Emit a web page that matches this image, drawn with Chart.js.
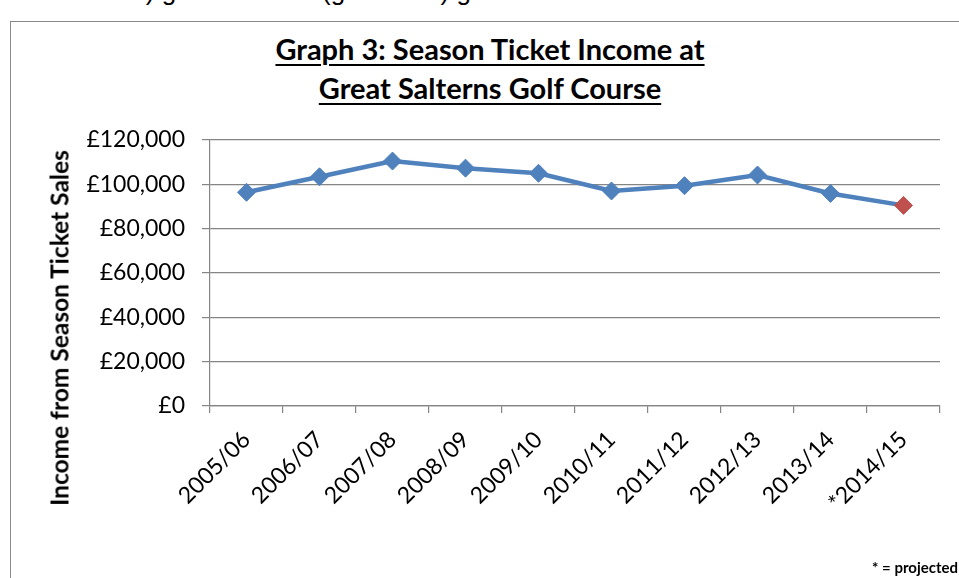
<!DOCTYPE html>
<html>
<head>
<meta charset="utf-8">
<script src="https://cdn.jsdelivr.net/npm/chart.js@4.4.1/dist/chart.umd.min.js"></script>
<style>
  html, body { margin: 0; padding: 0; background: #fff; }
  #wrap { position: relative; width: 959px; height: 578px; overflow: hidden; }
  #frame { position: absolute; left: 10px; top: 21px; width: 1000px; height: 600px; border: 1px solid #8a8a8a; box-sizing: border-box; }
  #above { position: absolute; left: -6px; top: -24px; font: 26px "Liberation Sans", Arial, sans-serif; color: #000; white-space: nowrap; }
  .ttl { position: absolute; left: 0; width: 980px; text-align: center; font: bold 29px Lato, sans-serif; color: #000; text-decoration: underline; text-underline-offset: 4px; text-decoration-thickness: 2px; white-space: nowrap; }
  #ytitle { position: absolute; left: 59px; top: 328px; transform: translate(-50%, -50%) rotate(-90deg); font: bold 24.5px Lato, sans-serif; color: #000; white-space: nowrap; }
  #note { position: absolute; right: 1px; top: 558px; font: bold 15px Lato, sans-serif; color: #000; }
  canvas { position: absolute; left: 0; top: 0; }
</style>
</head>
<body>
<div id="wrap">
  <div id="above">season ticket) golf to casual (green fee) golf</div>
  <div id="frame"></div>
  <div class="ttl" style="top:31px">Graph 3: Season Ticket Income at</div>
  <div class="ttl" style="top:70px">Great Salterns Golf Course</div>
  <canvas id="myChart" width="959" height="578"></canvas>
  <div id="ytitle">Income from Season Ticket Sales</div>
  <div id="note">* = projected</div>
</div>
<script>
// season ticket income by year, last year is a projection
var years = ['2005/06', '2006/07', '2007/08', '2008/09', '2009/10', '2010/11', '2011/12', '2012/13', '2013/14', '*2014/15'];
var income = [96400, 103400, 110500, 107300, 105000, 97000, 99400, 104200, 95900, 90500];
var yTicks = [0, 20000, 40000, 60000, 80000, 100000, 120000];

var blue = '#4F81BD';
var red = '#C0504D';
var axisGray = '#858585';

function pointColor(ctx) {
  return ctx.dataIndex === years.length - 1 ? red : blue;
}

function money(v) {
  return '£' + v.toLocaleString('en-GB');
}

var ctx = document.getElementById('myChart');
var myChart = new Chart(ctx, {
  type: 'line',
  data: {
    labels: years,
    datasets: [{
      label: 'Season ticket income',
      data: income,
      borderColor: blue,
      borderWidth: 4.5,
      pointStyle: 'rectRot',
      pointRadius: 9,
      pointHoverRadius: 9,
      pointBackgroundColor: pointColor,
      pointBorderColor: pointColor,
      pointBorderWidth: 1,
      tension: 0,
      fill: false
    }]
  },
  options: {
    responsive: false,
    animation: false,
    layout: { padding: { left: 10, right: 19, top: 140, bottom: 0 } },
    plugins: {
      legend: { display: false },
      tooltip: { enabled: false }
    },
    scales: {
      x: {
        offset: true,
        grid: { offset: true, drawOnChartArea: false, drawTicks: true, tickLength: 7, color: axisGray, lineWidth: 1.2 },
        border: { color: axisGray, width: 1.2 },
        ticks: {
          minRotation: 45, maxRotation: 45, autoSkip: false, padding: 13,
          color: '#000', font: { family: 'Lato', size: 23 }
        },
        afterFit: function (scale) { scale.height = 578 - 406; }
      },
      y: {
        min: 0, max: 120000,
        afterBuildTicks: function (scale) {
          scale.ticks = yTicks.map(function (v) { return { value: v }; });
        },
        grid: { color: axisGray, lineWidth: 1.2, tickLength: 8 },
        border: { color: axisGray, width: 1.2 },
        ticks: {
          padding: 17, color: '#000', font: { family: 'Lato', size: 23 },
          callback: function (v) { return money(v); }
        },
        afterFit: function (scale) { scale.width = 200; }
      }
    }
  }
});
</script>
</body>
</html>
